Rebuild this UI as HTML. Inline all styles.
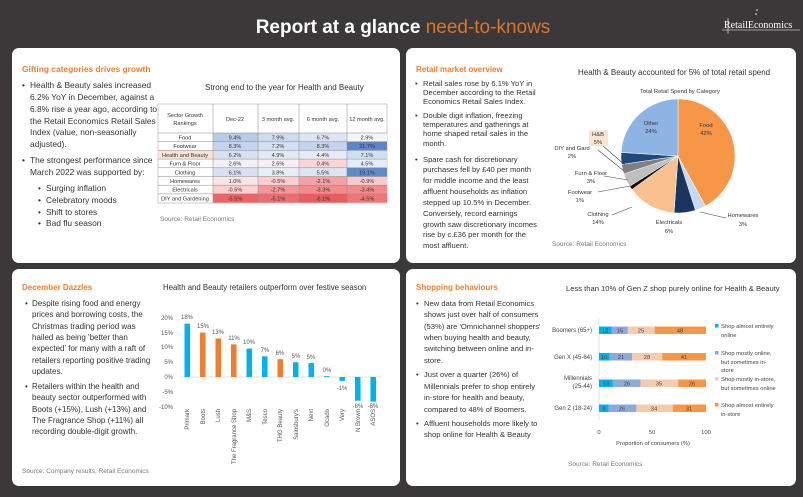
<!DOCTYPE html>
<html><head><meta charset="utf-8"><style>
html,body{margin:0;padding:0;background:#3a3838;}
svg{display:block;font-family:"Liberation Sans",sans-serif;}
</style></head><body>
<svg width="803" height="497" viewBox="0 0 803 497" xmlns="http://www.w3.org/2000/svg">
<rect width="803" height="497" fill="#3a3838"/>
<text x="403" y="33" text-anchor="middle" font-size="19" font-weight="bold" fill="#fff">Report at a glance <tspan font-weight="normal" fill="#d9752e">need-to-knows</tspan></text>
<g fill="#fff"><text x="724" y="28" font-family="Liberation Serif,serif" font-size="10">RetailEconomics</text></g>
<line x1="728" y1="18" x2="728" y2="34" stroke="#fff" stroke-width="0.6"/><line x1="722" y1="30" x2="800" y2="30" stroke="#fff" stroke-width="0.6"/>
<circle cx="757" cy="10" r="0.8" fill="#fff"/><circle cx="756" cy="14" r="0.8" fill="#fff"/>

<!-- panels -->
<rect x="12" y="48" width="388" height="215" rx="7" fill="#fff"/>
<rect x="406" y="48" width="390" height="215" rx="7" fill="#fff"/>
<rect x="12" y="269" width="388" height="217" rx="7" fill="#fff"/>
<rect x="406" y="269" width="390" height="217" rx="7" fill="#fff"/>

<!-- Panel 1 -->
<g font-size="8.4" fill="#333">
<text x="22" y="72" font-weight="bold" fill="#f07d2b" font-size="8.4">Gifting categories drives growth</text>
<text x="22" y="88">•</text>
<text x="30" y="88">Health &amp; Beauty sales increased</text>
<text x="30" y="100">6.2% YoY in December, against a</text>
<text x="30" y="112">6.8% rise a year ago, according to</text>
<text x="30" y="124">the Retail Economics Retail Sales</text>
<text x="30" y="135">Index (value, non-seasonally</text>
<text x="30" y="147">adjusted).</text>
<text x="22" y="163">•</text>
<text x="30" y="163">The strongest performance since</text>
<text x="30" y="175">March 2022 was supported by:</text>
<text x="38" y="191">•</text><text x="46" y="191">Surging inflation</text>
<text x="38" y="203">•</text><text x="46" y="203">Celebratory moods</text>
<text x="38" y="215">•</text><text x="46" y="215">Shift to stores</text>
<text x="38" y="226">•</text><text x="46" y="226">Bad flu season</text>
</g>
<text x="205" y="90" font-size="8" fill="#333">Strong end to the year for Health and Beauty</text>
<!-- table -->
<g font-size="5.6" fill="#333" text-anchor="middle">
<rect x="158" y="104" width="229" height="99" fill="#fff" stroke="#aaa" stroke-width="0.6"/>
<text x="185" y="117">Sector Growth</text><text x="185" y="125">Rankings</text>
<text x="235" y="121">Dec-22</text><text x="278" y="121">3 month avg.</text><text x="323" y="121">6 month avg.</text><text x="367" y="121">12 month avg.</text>
<g id="rows"></g>
</g>
<g font-size="5.6" fill="#333" text-anchor="middle" stroke="none">
<!-- row fills -->
<g>
<rect x="213" y="133" width="45" height="8.7" fill="#b8cce8"/><rect x="258" y="133" width="41" height="8.7" fill="#cddaef"/><rect x="299" y="133" width="48" height="8.7" fill="#dde6f4"/><rect x="347" y="133" width="40" height="8.7" fill="#f5f6fb"/>
<rect x="213" y="141.7" width="45" height="8.7" fill="#c5d4ec"/><rect x="258" y="141.7" width="41" height="8.7" fill="#d3def0"/><rect x="299" y="141.7" width="48" height="8.7" fill="#c5d4ec"/><rect x="347" y="141.7" width="40" height="8.7" fill="#5b87c8"/>
<rect x="158" y="150.4" width="55" height="8.7" fill="#fbe3d5"/><rect x="213" y="150.4" width="45" height="8.7" fill="#d7e1f2"/><rect x="258" y="150.4" width="41" height="8.7" fill="#e2e9f5"/><rect x="299" y="150.4" width="48" height="8.7" fill="#e6ecf7"/><rect x="347" y="150.4" width="40" height="8.7" fill="#d3def0"/>
<rect x="213" y="159.1" width="45" height="8.7" fill="#f5f0f4"/><rect x="258" y="159.1" width="41" height="8.7" fill="#f7f0f3"/><rect x="299" y="159.1" width="48" height="8.7" fill="#fbd5d6"/><rect x="347" y="159.1" width="40" height="8.7" fill="#e6ecf7"/>
<rect x="213" y="167.8" width="45" height="8.7" fill="#d7e1f2"/><rect x="258" y="167.8" width="41" height="8.7" fill="#e8eef7"/><rect x="299" y="167.8" width="48" height="8.7" fill="#dbe4f3"/><rect x="347" y="167.8" width="40" height="8.7" fill="#5f8acb"/>
<rect x="213" y="176.5" width="45" height="8.7" fill="#fce3e4"/><rect x="258" y="176.5" width="41" height="8.7" fill="#fbcfd0"/><rect x="299" y="176.5" width="48" height="8.7" fill="#f6a2a4"/><rect x="347" y="176.5" width="40" height="8.7" fill="#fbcaca"/>
<rect x="213" y="185.2" width="45" height="8.7" fill="#fbcfd0"/><rect x="258" y="185.2" width="41" height="8.7" fill="#f59799"/><rect x="299" y="185.2" width="48" height="8.7" fill="#f48a8c"/><rect x="347" y="185.2" width="40" height="8.7" fill="#f48a8c"/>
<rect x="213" y="193.9" width="45" height="8.7" fill="#f06266"/><rect x="258" y="193.9" width="41" height="8.7" fill="#f16a6d"/><rect x="299" y="193.9" width="48" height="8.7" fill="#ef5a5e"/><rect x="347" y="193.9" width="40" height="8.7" fill="#f27678"/>
</g>
<g stroke="#888" stroke-width="0.5">
<line x1="158" y1="133" x2="387" y2="133"/><line x1="158" y1="141.7" x2="387" y2="141.7"/><line x1="158" y1="150.4" x2="387" y2="150.4"/><line x1="158" y1="159.1" x2="387" y2="159.1"/><line x1="158" y1="167.8" x2="387" y2="167.8"/><line x1="158" y1="176.5" x2="387" y2="176.5"/><line x1="158" y1="185.2" x2="387" y2="185.2"/><line x1="158" y1="193.9" x2="387" y2="193.9"/>
<line x1="213" y1="104" x2="213" y2="203"/><line x1="258" y1="104" x2="258" y2="203"/><line x1="299" y1="104" x2="299" y2="203"/><line x1="347" y1="104" x2="347" y2="203"/>
</g>
<text x="185" y="139.5">Food</text><text x="235" y="139.5">9.4%</text><text x="278" y="139.5">7.9%</text><text x="323" y="139.5">6.7%</text><text x="367" y="139.5">2.9%</text>
<text x="185" y="148.2">Footwear</text><text x="235" y="148.2">8.3%</text><text x="278" y="148.2">7.2%</text><text x="323" y="148.2">8.3%</text><text x="367" y="148.2">21.7%</text>
<text x="185" y="156.9">Health and Beauty</text><text x="235" y="156.9">6.2%</text><text x="278" y="156.9">4.9%</text><text x="323" y="156.9">4.4%</text><text x="367" y="156.9">7.1%</text>
<text x="185" y="165.6">Furn &amp; Floor</text><text x="235" y="165.6">2.6%</text><text x="278" y="165.6">2.6%</text><text x="323" y="165.6">0.4%</text><text x="367" y="165.6">4.5%</text>
<text x="185" y="174.3">Clothing</text><text x="235" y="174.3">6.1%</text><text x="278" y="174.3">3.8%</text><text x="323" y="174.3">5.5%</text><text x="367" y="174.3">19.1%</text>
<text x="185" y="183">Homewares</text><text x="235" y="183">1.0%</text><text x="278" y="183">-0.5%</text><text x="323" y="183">-2.1%</text><text x="367" y="183">-0.9%</text>
<text x="185" y="191.7">Electricals</text><text x="235" y="191.7">-0.5%</text><text x="278" y="191.7">-2.7%</text><text x="323" y="191.7">-3.3%</text><text x="367" y="191.7">-3.4%</text>
<text x="185" y="200.4">DIY and Gardening</text><text x="235" y="200.4">-5.5%</text><text x="278" y="200.4">-5.1%</text><text x="323" y="200.4">-6.1%</text><text x="367" y="200.4">-4.5%</text>
</g>
<text x="160" y="221" font-size="6.5" fill="#777">Source: Retail Economics</text>

<!-- Panel 2 -->
<g font-size="7.6" fill="#333">
<text x="416" y="72" font-weight="bold" fill="#f07d2b" font-size="8">Retail market overview</text>
<text x="415" y="86">•</text><text x="423" y="86">Retail sales rose by 6.1% YoY in</text>
<text x="423" y="95">December according to the Retail</text>
<text x="423" y="104">Economics Retail Sales Index.</text>
<text x="415" y="118">•</text><text x="423" y="118">Double digit inflation, freezing</text>
<text x="423" y="127">temperatures and gatherings at</text>
<text x="423" y="136">home shaped retail sales in the</text>
<text x="423" y="146">month.</text>
<text x="415" y="162">•</text><text x="423" y="162">Spare cash for discretionary</text>
<text x="423" y="172">purchases fell by £40 per month</text>
<text x="423" y="183">for middle income and the least</text>
<text x="423" y="194">affluent households as inflation</text>
<text x="423" y="205">stepped up 10.5% in December.</text>
<text x="423" y="216">Conversely, record earnings</text>
<text x="423" y="227">growth saw discretionary incomes</text>
<text x="423" y="237">rise by c.£36 per month for the</text>
<text x="423" y="248">most affluent.</text>
</g>
<text x="578" y="75" font-size="8" fill="#333">Health &amp; Beauty accounted for 5% of total retail spend</text>
<text x="680" y="93" font-size="5.8" fill="#333" text-anchor="middle">Total Retail Spend by Category</text>
<g transform="translate(678,156)" stroke="#fff" stroke-width="0.5">
<path d="M0,0 L0,-57 A57,57 0 0 1 27.4,50 Z" fill="#f79646"/>
<path d="M0,0 L27.4,50 A57,57 0 0 1 17.4,54.3 Z" fill="#c6d9f1"/>
<path d="M0,0 L17.4,54.3 A57,57 0 0 1 -4.0,56.9 Z" fill="#17375e"/>
<path d="M0,0 L-4.0,56.9 A57,57 0 0 1 -46.1,33.5 Z" fill="#fac090"/>
<path d="M0,0 L-46.1,33.5 A57,57 0 0 1 -48.3,30.2 Z" fill="#111"/>
<path d="M0,0 L-48.3,30.2 A57,57 0 0 1 -54.1,17.9 Z" fill="#bfbfbf"/>
<path d="M0,0 L-54.1,17.9 A57,57 0 0 1 -56.4,8.5 Z" fill="#808080"/>
<path d="M0,0 L-56.4,8.5 A57,57 0 0 1 -56.9,-3.6 Z" fill="#1f497d"/>
<path d="M0,0 L-56.9,-3.6 A57,57 0 0 1 0,-57 Z" fill="#8db4e2"/>
</g>
<g font-size="5.8" fill="#333" text-anchor="middle">
<text x="706" y="127">Food</text><text x="706" y="135">42%</text>
<text x="651" y="125">Other</text><text x="651" y="133">24%</text>
<rect x="589" y="130" width="19" height="16" fill="#fbe3d5"/>
<text x="598" y="136">H&amp;B</text><text x="598" y="144">5%</text>
<text x="572" y="150">DIY and Gard</text><text x="572" y="158">2%</text>
<text x="591" y="175">Furn &amp; Floor</text><text x="591" y="183">3%</text>
<text x="580" y="194">Footwear</text><text x="580" y="202">1%</text>
<text x="598" y="216">Clothing</text><text x="598" y="224">14%</text>
<text x="669" y="224">Electricals</text><text x="669" y="233">6%</text>
<text x="743" y="217">Homewares</text><text x="743" y="226">3%</text>
</g>
<g stroke="#444" stroke-width="0.6" fill="none">
<polyline points="603,146 625,165"/><polyline points="598,150 624,171"/><polyline points="604,176 628,180"/><polyline points="598,192 630,186"/><polyline points="612,215 632,207"/><polyline points="700,212 726,218"/>
</g>
<text x="552" y="246" font-size="6.5" fill="#777">Source: Retail Economics</text>

<!-- Panel 3 -->
<g font-size="8" fill="#333">
<text x="22" y="290" font-weight="bold" fill="#f07d2b">December Dazzles</text>
<text x="25" y="306">•</text><text x="32" y="306">Despite rising food and energy</text>
<text x="32" y="317">prices and borrowing costs, the</text>
<text x="32" y="329">Christmas trading period was</text>
<text x="32" y="340">hailed as being 'better than</text>
<text x="32" y="351">expected' for many with a raft of</text>
<text x="32" y="363">retailers reporting positive trading</text>
<text x="32" y="374">updates.</text>
<text x="25" y="389">•</text><text x="32" y="389">Retailers within the health and</text>
<text x="32" y="400">beauty sector outperformed with</text>
<text x="32" y="412">Boots (+15%), Lush (+13%) and</text>
<text x="32" y="423">The Fragrance Shop (+11%) all</text>
<text x="32" y="434">recording double-digit growth.</text>
</g>
<text x="22" y="473" font-size="6.5" fill="#777">Source: Company results, Retail Economics</text>
<text x="163" y="290" font-size="7.8" fill="#333">Health and Beauty retailers outperform over festive season</text>
<g font-size="6" fill="#555" text-anchor="end">
<text x="173" y="320">20%</text><text x="173" y="335">15%</text><text x="173" y="349">10%</text><text x="173" y="364">5%</text><text x="173" y="379">0%</text><text x="173" y="394">-5%</text><text x="173" y="409">-10%</text>
</g>
<line x1="180" y1="377" x2="382" y2="377" stroke="#d9d9d9" stroke-width="0.7"/>
<g>
<rect x="184.5" y="323.7" width="5.5" height="53.3" fill="#00b0f0"/>
<rect x="200" y="332.6" width="5.5" height="44.4" fill="#ed7d31"/>
<rect x="215.5" y="338.5" width="5.5" height="38.5" fill="#ed7d31"/>
<rect x="231" y="344.4" width="5.5" height="32.6" fill="#ed7d31"/>
<rect x="246.5" y="348.6" width="5.5" height="28.4" fill="#00b0f0"/>
<rect x="262" y="356.3" width="5.5" height="20.7" fill="#00b0f0"/>
<rect x="277.5" y="359.2" width="5.5" height="17.8" fill="#ed7d31"/>
<rect x="293" y="362.2" width="5.5" height="14.8" fill="#00b0f0"/>
<rect x="308.5" y="363.1" width="5.5" height="13.9" fill="#00b0f0"/>
<rect x="324" y="376.1" width="5.5" height="0.9" fill="#00b0f0"/>
<rect x="339.5" y="377" width="5.5" height="3.9" fill="#00b0f0"/>
<rect x="355" y="377" width="5.5" height="23.7" fill="#00b0f0"/>
<rect x="370.5" y="377" width="5.5" height="24.6" fill="#00b0f0"/>
</g>
<g font-size="6" fill="#555" text-anchor="middle">
<text x="187" y="319">18%</text><text x="203" y="328">15%</text><text x="218" y="334">13%</text><text x="234" y="340">11%</text><text x="249" y="344">10%</text><text x="265" y="352">7%</text><text x="280" y="355">6%</text><text x="296" y="358">5%</text><text x="311" y="359">5%</text><text x="327" y="372">0%</text><text x="342" y="390">-1%</text><text x="358" y="408">-8%</text><text x="373" y="408">-8%</text>
</g>
<g font-size="6" fill="#555" text-anchor="end">
<text transform="translate(189,409) rotate(-90)">Primark</text>
<text transform="translate(205,409) rotate(-90)">Boots</text>
<text transform="translate(220,409) rotate(-90)">Lush</text>
<text transform="translate(236,409) rotate(-90)">The Fragrance Shop</text>
<text transform="translate(251,409) rotate(-90)">M&amp;S</text>
<text transform="translate(267,409) rotate(-90)">Tesco</text>
<text transform="translate(282,409) rotate(-90)">THG Beauty</text>
<text transform="translate(298,409) rotate(-90)">Sainsbury's</text>
<text transform="translate(313,409) rotate(-90)">Next</text>
<text transform="translate(329,409) rotate(-90)">Ocado</text>
<text transform="translate(344,409) rotate(-90)">Very</text>
<text transform="translate(360,409) rotate(-90)">N Brown</text>
<text transform="translate(375,409) rotate(-90)">ASOS</text>
</g>

<!-- Panel 4 -->
<g font-size="7.6" fill="#333">
<text x="416" y="290" font-weight="bold" fill="#f07d2b" font-size="8">Shopping behaviours</text>
<text x="416" y="306">•</text><text x="424" y="306">New data from Retail Economics</text>
<text x="424" y="317">shows just over half of consumers</text>
<text x="424" y="329">(53%) are 'Omnichannel shoppers'</text>
<text x="424" y="340">when buying health and beauty,</text>
<text x="424" y="351">switching between online and in-</text>
<text x="424" y="363">store.</text>
<text x="416" y="377">•</text><text x="424" y="377">Just over a quarter (26%) of</text>
<text x="424" y="389">Millennials prefer to shop entirely</text>
<text x="424" y="400">in-store for health and beauty,</text>
<text x="424" y="412">compared to 48% of Boomers.</text>
<text x="416" y="426">•</text><text x="424" y="426">Affluent households more likely to</text>
<text x="424" y="437">shop online for Health &amp; Beauty</text>
</g>
<text x="566" y="291" font-size="7.6" fill="#333">Less than 10% of Gen Z shop purely online for Health &amp; Beauty</text>
<g font-size="6" fill="#444" text-anchor="end">
<text x="592" y="332">Boomers (65+)</text>
<text x="592" y="359">Gen X (45-64)</text>
<text x="592" y="380">Millennials</text><text x="592" y="388">(25-44)</text>
<text x="592" y="410">Gen Z (18-24)</text>
</g>
<line x1="599" y1="318" x2="599" y2="420" stroke="#d9d9d9" stroke-width="0.7"/>
<g>
<rect x="599" y="326.5" width="12.8" height="7.5" fill="#00b0f0"/><rect x="611.8" y="326.5" width="16.1" height="7.5" fill="#8eaadb"/><rect x="627.9" y="326.5" width="26.8" height="7.5" fill="#f8cbad"/><rect x="654.7" y="326.5" width="51.3" height="7.5" fill="#f79646"/>
<rect x="599" y="353" width="10.7" height="7.5" fill="#00b0f0"/><rect x="609.7" y="353" width="22.5" height="7.5" fill="#8eaadb"/><rect x="632.2" y="353" width="30" height="7.5" fill="#f8cbad"/><rect x="662.2" y="353" width="43.8" height="7.5" fill="#f79646"/>
<rect x="599" y="379.5" width="13.9" height="7.5" fill="#00b0f0"/><rect x="612.9" y="379.5" width="27.8" height="7.5" fill="#8eaadb"/><rect x="640.7" y="379.5" width="37.5" height="7.5" fill="#f8cbad"/><rect x="678.2" y="379.5" width="27.8" height="7.5" fill="#f79646"/>
<rect x="599" y="404.5" width="9.6" height="7.5" fill="#00b0f0"/><rect x="608.6" y="404.5" width="27.8" height="7.5" fill="#8eaadb"/><rect x="636.4" y="404.5" width="36.4" height="7.5" fill="#f8cbad"/><rect x="672.8" y="404.5" width="33.2" height="7.5" fill="#f79646"/>
</g>
<g font-size="5.8" fill="#444" text-anchor="middle">
<text x="605" y="332.5">12</text><text x="620" y="332.5">15</text><text x="641" y="332.5">25</text><text x="680" y="332.5">48</text>
<text x="604" y="359">10</text><text x="621" y="359">21</text><text x="647" y="359">28</text><text x="684" y="359">41</text>
<text x="606" y="385.5">13</text><text x="627" y="385.5">26</text><text x="659" y="385.5">35</text><text x="692" y="385.5">26</text>
<text x="604" y="410.5">9</text><text x="622" y="410.5">26</text><text x="654" y="410.5">34</text><text x="689" y="410.5">31</text>
<text x="599" y="434">0</text><text x="652" y="434">50</text><text x="706" y="434">100</text>
<text x="653" y="445">Proportion of consumers (%)</text>
</g>
<g font-size="5.8" fill="#444">
<rect x="715" y="324" width="3.5" height="3.5" fill="#00b0f0"/><text x="721" y="328">Shop almost entirely</text><text x="721" y="337">online</text>
<rect x="715" y="351" width="3.5" height="3.5" fill="#8eaadb"/><text x="721" y="355">Shop mostly online,</text><text x="721" y="364">but sometimes in-</text><text x="721" y="372">store</text>
<rect x="715" y="377" width="3.5" height="3.5" fill="#f8cbad"/><text x="721" y="381">Shop mostly in-store,</text><text x="721" y="390">but sometimes online</text>
<rect x="715" y="403" width="3.5" height="3.5" fill="#f79646"/><text x="721" y="407">Shop almost entirely</text><text x="721" y="416">in-store</text>
</g>
<text x="568" y="466" font-size="6.5" fill="#777">Source: Retail Economics</text>
</svg>
</body></html>
